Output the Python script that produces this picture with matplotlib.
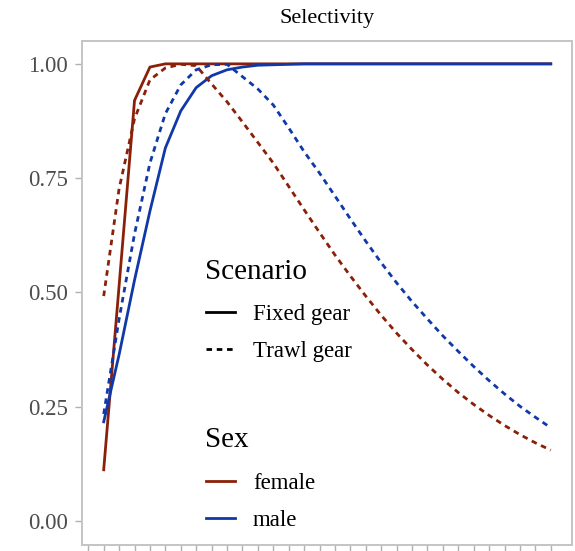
import numpy as np
import matplotlib.pyplot as plt
from matplotlib.lines import Line2D

plt.rcParams['font.family'] = ['Liberation Serif', 'DejaVu Serif']

# ages 1..30
age = np.arange(1, 31)

female_fixed = [0.112, 0.515, 0.920, 0.993] + [1.0] * 26
male_fixed = [0.217, 0.364, 0.527, 0.678, 0.816, 0.897, 0.948, 0.974, 0.987, 0.993,
              0.997, 0.998, 0.999] + [1.0] * 17
female_trawl = [0.492, 0.727, 0.880, 0.965, 0.991, 0.999, 0.996, 0.956, 0.917, 0.873,
                0.828, 0.783, 0.732, 0.681, 0.631, 0.582, 0.536, 0.492, 0.450, 0.411,
                0.375, 0.341, 0.310, 0.281, 0.255, 0.231, 0.209, 0.189, 0.171, 0.155]
male_trawl = [0.234, 0.442, 0.628, 0.783, 0.891, 0.954, 0.987, 0.998, 0.999, 0.972,
              0.945, 0.910, 0.860, 0.808, 0.761, 0.711, 0.661, 0.612, 0.565, 0.521,
              0.480, 0.442, 0.405, 0.371, 0.338, 0.307, 0.278, 0.251, 0.227, 0.204]

RED = "#8b2008"
BLUE = "#1038a8"
DASH = (0, (2.0, 1.7))
LW = 2.0

W, H = 575, 551
fig = plt.figure(figsize=(W / 100, H / 100), dpi=100)
ax = fig.add_axes([0.142, 0.0109, 0.8523, 0.9147])

ax.plot(age, female_fixed, color=RED, lw=LW)
ax.plot(age, male_fixed, color=BLUE, lw=LW)
ax.plot(age, female_trawl, color=RED, lw=LW, linestyle=DASH)
ax.plot(age, male_trawl, color=BLUE, lw=LW, linestyle=DASH)

ax.set_xlim(-0.43, 31.36)
ax.set_ylim(-0.0525, 1.05)
ax.set_xticks(np.arange(0, 31))
ax.set_xticklabels([])
ax.set_yticks([0, 0.25, 0.5, 0.75, 1.0])
ax.set_yticklabels(["0.00", "0.25", "0.50", "0.75", "1.00"])
ax.tick_params(axis="both", colors="#b0b0b0", length=5, width=1, labelsize=16.5,
               labelcolor="#4d4d4d", pad=5)
for sp in ax.spines.values():
    sp.set_color("#c4c4c4")
    sp.set_linewidth(1.4)

fig.text(0.5685, 1 - 18 / H, "Selectivity", ha="center", va="center", fontsize=16)

# legends (titles placed separately so the title gap matches)
leg_kw = dict(loc="upper left", bbox_transform=fig.transFigure, frameon=False,
              fontsize=16.5, handlelength=1.25, handletextpad=0.8,
              labelspacing=0.7, borderpad=0, borderaxespad=0)

scen_handles = [Line2D([], [], color="black", lw=LW),
                Line2D([], [], color="black", lw=LW, linestyle=DASH)]
leg1 = ax.legend(scen_handles, ["Fixed gear", "Trawl gear"],
                 bbox_to_anchor=(206 / W, 1 - 304 / H), **leg_kw)
ax.add_artist(leg1)
fig.text(205 / W, 1 - 272 / H, "Scenario", ha="left", va="center", fontsize=21)

sex_handles = [Line2D([], [], color=RED, lw=LW), Line2D([], [], color=BLUE, lw=LW)]
ax.legend(sex_handles, ["female", "male"],
          bbox_to_anchor=(206 / W, 1 - 473 / H), **leg_kw)
fig.text(205 / W, 1 - 440 / H, "Sex", ha="left", va="center", fontsize=21)

fig.savefig("out.png", dpi=100)
